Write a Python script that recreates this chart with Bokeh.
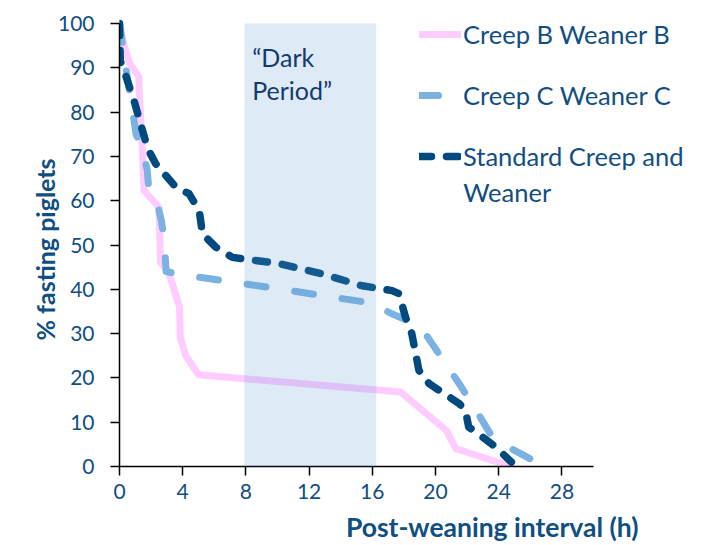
from bokeh.plotting import figure
from bokeh.models import (Range1d, FixedTicker, BoxAnnotation, Legend, LegendItem, Label, Title)
from bokeh.embed import file_html
from bokeh.resources import INLINE

# ---- data ----
creep_b_x = [0, 0.3, 0.65, 1.22, 1.25, 1.47, 1.55, 2.5, 2.6, 3.1, 3.8, 3.85, 4.2, 5.0, 17.8, 19.2, 20.7, 21.3, 24.8]
creep_b_y = [100, 95, 91, 88, 85, 70, 62.3, 58.5, 46, 44, 36, 29, 25, 20.7, 16.8, 12.6, 8.1, 4, 0]

creep_c_x = [0, 0.4, 0.84, 1.05, 1.45, 1.75, 1.85, 2.45, 2.65, 2.84, 2.95, 4.3, 7.4, 10.5, 13.5, 15.8, 17.05, 18.7, 19.15, 20.2, 21.5, 22.7, 23.6, 24.8, 26.9]
creep_c_y = [100, 90, 80, 75, 71.5, 67, 63, 58.5, 55.5, 51, 44, 43.1, 41.5, 39.9, 38.2, 37, 34.8, 32.2, 31.1, 25.5, 18.7, 11.9, 6.6, 4, 0]

std_x = [0, 0.05, 0.4, 0.95, 1.37, 1.79, 2.3, 3.58, 4.4, 5.05, 5.25, 6.1, 7.15, 10.1, 12.8, 15.35, 17.25, 17.7, 18.1, 18.5, 18.95, 19.6, 21.5, 21.9, 22.1, 22.7, 23.8, 24.8]
std_y = [100, 91.6, 88.2, 82.2, 76.9, 71.7, 68.3, 63, 61.6, 57.7, 52.5, 49.5, 47.2, 45.8, 43.5, 40.8, 39.7, 39, 33.7, 30, 21.7, 18.7, 14.2, 12.6, 8.9, 7.4, 4.4, 1]

series_names = ["Creep B Weaner B", "Creep C Weaner C", "Standard Creep and"]
series_name_cont = "Weaner"
x_ticks = [0, 4, 8, 12, 16, 20, 24, 28]
y_ticks = [0, 10, 20, 30, 40, 50, 60, 70, 80, 90, 100]
dark_period = (7.9, 16.25)
dark_text = ["\u201cDark", "Period\u201d"]

FONT = "Lato"
TXT = "#114E82"

p = figure(frame_width=574, frame_height=456,
           x_range=Range1d(0, 574 / 15.8), y_range=Range1d(0, 456 / 4.43),
           output_backend="svg", toolbar_location=None,
           min_border_left=119, min_border_top=10, min_border_bottom=71, min_border_right=0)
p.outline_line_color = None
p.grid.visible = False
p.background_fill_color = "white"

r_b = p.line(creep_b_x, creep_b_y, line_color="#FFCCFF", line_width=7, line_join="round", line_cap="round")
r_c = p.line(creep_c_x, creep_c_y, line_color="#7CB2E2", line_width=7, line_join="round", line_cap="round",
             line_dash="19 29")
r_s = p.line(std_x, std_y, line_color="#004A7F", line_width=7.5, line_join="round", line_cap="round",
             line_dash="12 15")

band = BoxAnnotation(left=dark_period[0], right=dark_period[1], bottom=0, top=100,
                     fill_color="#5B9BD5", fill_alpha=0.2, line_color=None)
p.add_layout(band)

for i, t in enumerate(dark_text):
    p.add_layout(Label(x=8.4, y=[92.5, 85.0][i], text=t, text_font=FONT, text_font_size="25px",
                       text_color="#14396E", text_baseline="middle", text_align="left"))

# axes
xa = p.xaxis[0]
xa.ticker = FixedTicker(ticks=x_ticks)
xa.bounds = (0, 30)
ya = p.yaxis[0]
ya.ticker = FixedTicker(ticks=y_ticks)
ya.bounds = (0, 100)
for ax in (xa, ya):
    ax.axis_line_color = "black"
    ax.axis_line_width = 1.5
    ax.major_tick_line_color = "black"
    ax.major_tick_line_width = 1.5
    ax.major_tick_in = 0
    ax.major_tick_out = 9
    ax.minor_tick_line_color = None
    ax.major_label_text_font = FONT
    ax.major_label_text_font_size = "21px"
    ax.major_label_text_color = TXT
xa.major_label_standoff = 8
ya.major_label_standoff = 16

yt = Title(text="% fasting piglets", align="left", offset=126, vertical_align="bottom",
           text_font=FONT, text_font_style="bold", text_font_size="25px", text_color=TXT,
           standoff=-10)
p.add_layout(yt, "left")

xt = Title(text="Post-weaning interval (h)", align="right", offset=55,
           text_font=FONT, text_font_style="bold", text_font_size="26.5px", text_color=TXT,
           standoff=14)
p.add_layout(xt, "below")

legend = Legend(items=[LegendItem(label=series_names[0], renderers=[r_b]),
                       LegendItem(label=series_names[1], renderers=[r_c]),
                       LegendItem(label=series_names[2], renderers=[r_s])],
                location=(300, 294), orientation="vertical",
                padding=0, margin=0, spacing=29, label_height=32, glyph_height=32,
                glyph_width=42, label_standoff=2,
                label_text_font=FONT, label_text_font_size="25.5px", label_text_color=TXT,
                border_line_color=None, background_fill_alpha=0)
p.add_layout(legend)
p.add_layout(Label(x=21.75, y=62.0, text=series_name_cont, text_font=FONT, text_font_size="25.5px",
                   text_color=TXT, text_baseline="middle", text_align="left"))

open("out.html", "w").write(file_html(p, INLINE))
